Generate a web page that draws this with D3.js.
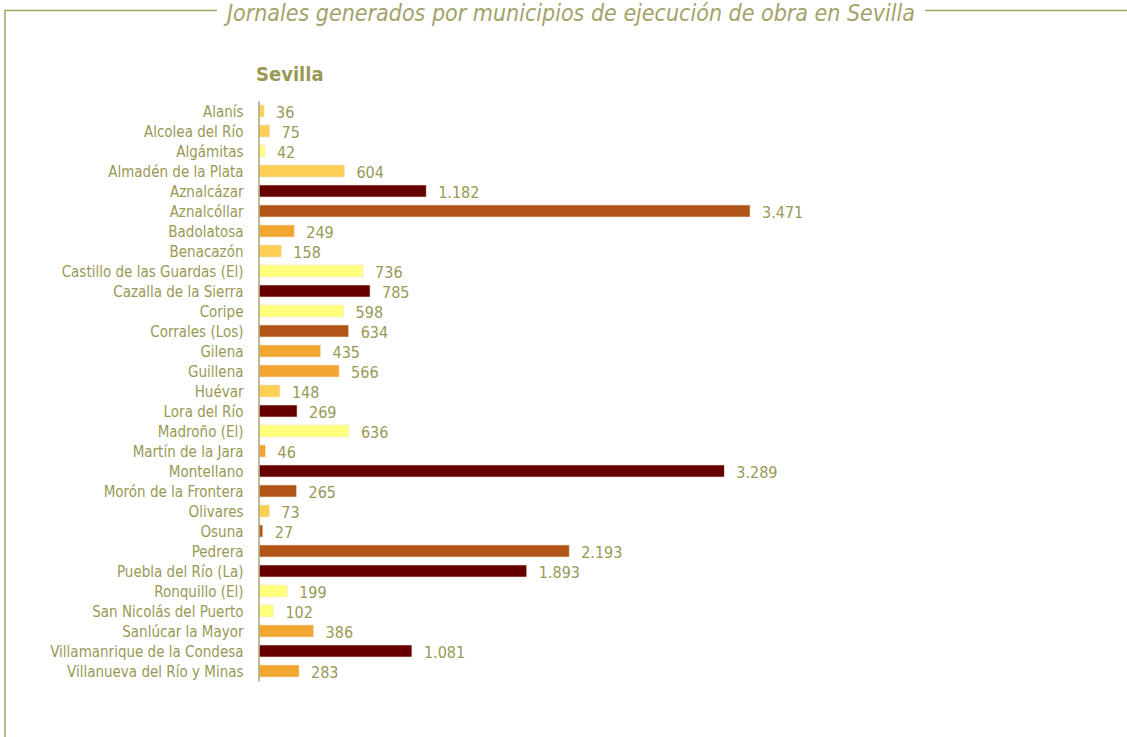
<!DOCTYPE html>
<meta charset="utf-8">
<script src="https://d3js.org/d3.v7.min.js"></script>
<style>
body { margin: 0; background: #fff; }
text { font-family: "DejaVu Sans Condensed", "Liberation Sans Narrow", sans-serif; fill: #999955; }
</style>
<body>
<script>

// municipios, jornales and colour group
var municipios = ["Alanís", "Alcolea del Río", "Algámitas", "Almadén de la Plata", "Aznalcázar",
  "Aznalcóllar", "Badolatosa", "Benacazón", "Castillo de las Guardas (El)", "Cazalla de la Sierra",
  "Coripe", "Corrales (Los)", "Gilena", "Guillena", "Huévar", "Lora del Río", "Madroño (El)",
  "Martín de la Jara", "Montellano", "Morón de la Frontera", "Olivares", "Osuna", "Pedrera",
  "Puebla del Río (La)", "Ronquillo (El)", "San Nicolás del Puerto", "Sanlúcar la Mayor",
  "Villamanrique de la Condesa", "Villanueva del Río y Minas"];
var jornales = [36, 75, 42, 604, 1182, 3471, 249, 158, 736, 785, 598, 634, 435, 566, 148, 269,
  636, 46, 3289, 265, 73, 27, 2193, 1893, 199, 102, 386, 1081, 283];
var grupo = ["b", "b", "a", "b", "e", "d", "c", "b", "a", "e", "a", "d", "c", "c", "b", "e",
  "a", "c", "e", "d", "b", "d", "d", "e", "a", "a", "c", "e", "c"];

var title = "Jornales generados por municipios de ejecución de obra en Sevilla";
var subtitle = "Sevilla";

var W = 1127, H = 737;
var svg = d3.select("body").append("svg")
  .attr("width", W).attr("height", H);

var olive = "#a3a26a";

// frame with the title
var t = svg.append("text")
  .attr("x", 571).attr("y", 21)
  .attr("text-anchor", "middle")
  .style("font-style", "italic")
  .style("font-size", "23px")
  .style("fill", olive)
  .text(title);
var tw = t.node().getComputedTextLength();

svg.append("path")
  .attr("d", "M5," + H + "V10.5H" + (571 - tw / 2 - 10))
  .attr("fill", "none").attr("stroke", olive).attr("stroke-width", 1.5);
svg.append("path")
  .attr("d", "M" + (571 + tw / 2 + 10) + ",10.5H" + W)
  .attr("fill", "none").attr("stroke", olive).attr("stroke-width", 1.5);

svg.append("text")
  .attr("x", 256).attr("y", 81)
  .style("font-weight", "bold")
  .style("font-size", "20px")
  .style("fill", "#999955")
  .text(subtitle);

// scales
var x0 = 259;
var x = d3.scaleLinear().domain([0, 3471]).range([x0, 750]);
var y = d3.scaleBand().domain(municipios).range([101, 681]).paddingInner(0.4).paddingOuter(0.2);

var color = d3.scaleOrdinal()
  .domain(["a", "b", "c", "d", "e"])
  .range(["#ffff80", "#fdd055", "#f2a630", "#b05418", "#660000"]);

var data = municipios.map(function(m, i) { return {name: m, value: jornales[i], g: grupo[i]}; });

svg.append("g").selectAll("rect")
  .data(data)
  .enter().append("rect")
    .attr("x", x0)
    .attr("y", function(d) { return y(d.name); })
    .attr("width", function(d) { return x(d.value) - x0; })
    .attr("height", y.bandwidth())
    .attr("fill", function(d) { return color(d.g); })
    .attr("stroke", "#f4e0d0")
    .attr("stroke-width", 0.6);

// axis on the left
var axis = svg.append("g")
  .attr("transform", "translate(" + (x0 - 0.5) + ",0)")
  .call(d3.axisLeft(y).tickSize(0).tickPadding(15));
axis.select(".domain").attr("stroke", "#aaa777").attr("stroke-width", 1.5);
axis.selectAll(".tick text")
  .style("font-size", "15px")
  .style("fill", "#999955")
  .attr("dy", "0.4em");

// value labels
var fmt = d3.formatLocale({decimal: ",", thousands: ".", grouping: [3], currency: ["", ""]}).format(",d");
svg.append("g").selectAll("text")
  .data(data)
  .enter().append("text")
    .attr("x", function(d) { return x(d.value) + 12; })
    .attr("y", function(d) { return y(d.name) + y.bandwidth() / 2; })
    .attr("dy", "0.45em")
    .style("font-size", "16px")
    .text(function(d) { return fmt(d.value); });

</script>
</body>
